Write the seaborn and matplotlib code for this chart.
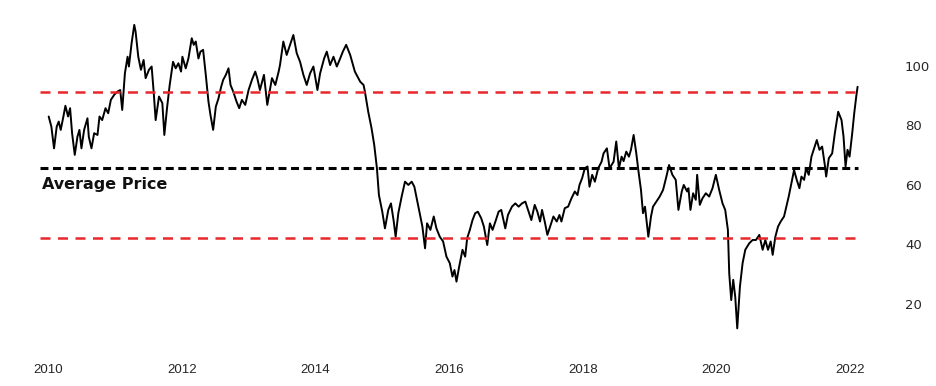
import numpy as np
import pandas as pd
import matplotlib.pyplot as plt
import seaborn as sns

# price (decimal year, USD)
years = [
    2010.01, 2010.05, 2010.09, 2010.13, 2010.16, 2010.19, 2010.23, 2010.26, 2010.30, 2010.33,
    2010.36, 2010.40, 2010.44, 2010.47, 2010.50, 2010.54, 2010.59, 2010.61, 2010.65, 2010.69,
    2010.74, 2010.77, 2010.81, 2010.86, 2010.90, 2010.94, 2010.99,
    2011.04, 2011.08, 2011.11, 2011.15, 2011.19, 2011.21, 2011.25, 2011.29, 2011.31, 2011.35,
    2011.39, 2011.43, 2011.46, 2011.51, 2011.55, 2011.58, 2011.61, 2011.66, 2011.71, 2011.74,
    2011.78, 2011.82, 2011.87, 2011.91, 2011.95, 2011.99,
    2012.01, 2012.06, 2012.10, 2012.15, 2012.18, 2012.21, 2012.25, 2012.28, 2012.32, 2012.36,
    2012.40, 2012.43, 2012.47, 2012.51, 2012.55, 2012.59, 2012.62, 2012.66, 2012.70, 2012.73,
    2012.77, 2012.82, 2012.86, 2012.90, 2012.95,
    2013.00, 2013.05, 2013.10, 2013.13, 2013.17, 2013.23, 2013.28, 2013.35, 2013.40, 2013.45,
    2013.47, 2013.52, 2013.57, 2013.62, 2013.67, 2013.72, 2013.77, 2013.82, 2013.87, 2013.92,
    2013.97,
    2014.03, 2014.07, 2014.13, 2014.17, 2014.22, 2014.27, 2014.32, 2014.37, 2014.41, 2014.46,
    2014.52, 2014.59, 2014.67, 2014.72, 2014.74, 2014.79, 2014.84, 2014.88, 2014.92, 2014.95,
    2015.00, 2015.04, 2015.09, 2015.13, 2015.17, 2015.20, 2015.24, 2015.29, 2015.34, 2015.39,
    2015.44, 2015.48, 2015.52, 2015.56, 2015.60, 2015.64, 2015.67, 2015.72, 2015.77, 2015.81,
    2015.86, 2015.91, 2015.96,
    2016.01, 2016.05, 2016.08, 2016.11, 2016.15, 2016.20, 2016.24, 2016.27, 2016.31, 2016.35,
    2016.39, 2016.43, 2016.48, 2016.52, 2016.57, 2016.61, 2016.65, 2016.70, 2016.74, 2016.78,
    2016.84, 2016.88, 2016.94, 2016.99,
    2017.04, 2017.09, 2017.14, 2017.19, 2017.23, 2017.28, 2017.32, 2017.36, 2017.39, 2017.43,
    2017.47, 2017.52, 2017.56, 2017.61, 2017.65, 2017.68, 2017.73, 2017.78, 2017.83, 2017.88,
    2017.92, 2017.95, 2017.99,
    2018.03, 2018.07, 2018.10, 2018.14, 2018.18, 2018.23, 2018.28, 2018.31, 2018.36, 2018.40,
    2018.46, 2018.50, 2018.54, 2018.58, 2018.61, 2018.65, 2018.69, 2018.72, 2018.76, 2018.80,
    2018.83, 2018.87, 2018.90, 2018.93, 2018.98,
    2019.02, 2019.05, 2019.10, 2019.15, 2019.20, 2019.25, 2019.29, 2019.34, 2019.39, 2019.43,
    2019.48, 2019.51, 2019.56, 2019.58, 2019.61, 2019.65, 2019.69, 2019.71, 2019.75, 2019.79,
    2019.84, 2019.89, 2019.94, 2019.99,
    2020.04, 2020.09, 2020.13, 2020.17, 2020.19, 2020.22, 2020.25, 2020.28, 2020.31, 2020.35,
    2020.39, 2020.43, 2020.49, 2020.54, 2020.59, 2020.64, 2020.69, 2020.73, 2020.77, 2020.81,
    2020.84, 2020.88, 2020.92, 2020.96,
    2021.01, 2021.05, 2021.08, 2021.12, 2021.16, 2021.20, 2021.24, 2021.27, 2021.31, 2021.34,
    2021.38, 2021.42, 2021.46, 2021.50, 2021.54, 2021.58, 2021.62, 2021.64, 2021.68, 2021.73,
    2021.77, 2021.82, 2021.87, 2021.90, 2021.93, 2021.96, 2021.99,
    2022.03, 2022.06, 2022.09, 2022.11,
]
price = [
    83.0, 79.6, 72.3, 79.6, 81.3, 78.5, 83.0, 86.6, 83.0, 85.8,
    77.4, 70.1, 76.2, 78.5, 72.3, 78.5, 82.4, 76.2, 72.3, 77.4,
    76.8, 83.0, 81.8, 85.8, 84.1, 88.6, 90.3,
    91.4, 91.9, 85.2, 97.5, 103.1, 99.8, 107.6, 113.8, 111.5, 103.1,
    98.7, 102.0, 95.9, 98.7, 99.8, 91.4, 81.8, 89.7, 87.5, 76.8,
    85.8, 93.6, 101.4, 99.2, 100.9, 98.1,
    103.1, 99.2, 102.5, 109.3, 107.1, 108.2, 102.5, 104.8, 105.4, 97.0,
    88.0, 83.5, 78.5, 86.3, 89.1, 93.0, 95.3, 97.0, 99.2, 93.6,
    91.4, 88.0, 85.8, 88.6, 86.9,
    91.9, 95.3, 98.1, 95.9, 91.9, 97.0, 86.9, 95.9, 93.6, 98.1,
    100.3, 108.2, 103.7, 107.1, 110.4, 104.3, 101.4, 97.0, 93.6, 97.5,
    99.8,
    91.9, 97.5, 102.5, 104.8, 100.3, 103.1, 99.8, 102.5, 104.8, 107.1,
    103.7, 98.1, 94.7, 93.6, 91.4, 84.6, 79.0, 73.4, 65.6, 56.6,
    51.0, 45.4, 51.6, 53.8, 48.0, 42.6, 50.5, 56.1, 61.1, 60.0,
    61.1, 59.4, 55.0, 50.5, 46.0, 38.7, 47.1, 44.9, 49.4, 45.4,
    42.6, 41.0, 35.9,
    33.7, 29.2, 31.4, 27.5, 32.5, 38.2, 35.9, 42.1, 44.9, 48.2,
    50.5, 51.0, 48.8, 46.0, 39.8, 47.1, 44.9, 48.2, 51.0, 51.6,
    45.4, 49.9, 52.7, 53.8,
    52.7, 53.8, 54.4, 51.0, 48.2, 53.3, 51.0, 47.7, 51.6, 47.7,
    43.2, 46.6, 49.4, 47.7, 49.9, 47.7, 52.2, 52.7, 55.5, 57.8,
    56.6, 60.0, 62.3,
    65.6, 66.2, 59.4, 63.4, 61.1, 65.6, 67.8, 70.6, 72.3, 65.6,
    67.8, 74.6, 65.6, 69.5, 68.0, 71.2, 69.5, 71.8, 76.8, 70.6,
    65.0, 58.3, 50.5, 52.7, 42.6,
    49.4, 52.7, 54.4, 56.1, 58.3, 62.8, 66.7, 63.4, 61.7, 51.6,
    57.8, 60.0, 57.8, 58.9, 51.6, 57.2, 55.0, 63.4, 53.3, 55.5,
    57.2, 56.1, 58.9, 63.4,
    58.3, 53.8, 51.6, 44.9, 30.3, 21.3, 28.1, 22.4, 11.8, 25.8,
    33.7, 38.2, 40.4, 41.5, 41.5, 43.2, 38.2, 41.5, 38.2, 41.0,
    36.5, 42.6, 46.0, 47.7,
    49.4, 53.3, 56.1, 60.6, 65.0, 61.7, 58.9, 62.8, 61.7, 65.6,
    63.4, 69.5, 72.3, 75.1, 71.8, 72.9, 66.7, 62.8, 69.0, 70.6,
    77.4, 84.6, 81.8, 76.2, 66.2, 71.8, 69.5,
    77.4, 84.1, 89.7, 93.0,
]

upper_band = 91.3
average_price = 65.7
lower_band = 42.2

tick_years = [2010, 2012, 2014, 2016, 2018, 2020, 2022]
tick_values = [20, 40, 60, 80, 100]

df = pd.DataFrame({"year": years, "price": price})

sns.set_style("white")

fig = plt.figure(figsize=(9.36, 3.86), dpi=100)
ax = fig.add_axes([40 / 936, 41 / 386, 840 / 936, 335 / 386])

sns.lineplot(data=df, x="year", y="price", color="black", linewidth=1.4, ax=ax)

# bands and average, drawn over the price line
x0, x1 = 2009.88, 2022.12
ax.hlines(upper_band, x0, x1, colors="#e8282b", linestyles=(0, (4, 3)), linewidth=1.8, zorder=3)
ax.hlines(average_price, x0, x1, colors="black", linestyles=(0, (2.6, 1.5)), linewidth=2.2, zorder=3)
ax.hlines(lower_band, x0, x1, colors="#e8282b", linestyles=(0, (4, 3)), linewidth=1.8, zorder=3)

ax.text(2009.91, 60.2, "Average Price", fontsize=11.5, fontweight="bold",
        ha="left", va="center", color="#111111")

ax.set_xlim(2009.88, 2009.88 + 840 / 66.85)
ax.set_ylim(6.2, 118.8)
ax.set_xticks(tick_years)
ax.set_xticklabels([str(y) for y in tick_years], fontsize=9.5, family="Liberation Sans")
ax.set_yticks(tick_values)
ax.yaxis.tick_right()
ax.tick_params(axis="y", labelsize=9.5, pad=18, length=0)
ax.tick_params(axis="x", pad=14, length=0)
ax.set_xlabel("")
ax.set_ylabel("")
sns.despine(ax=ax, left=True, bottom=True, right=True, top=True)
ax.grid(False)

fig.savefig("out.png", dpi=100)
